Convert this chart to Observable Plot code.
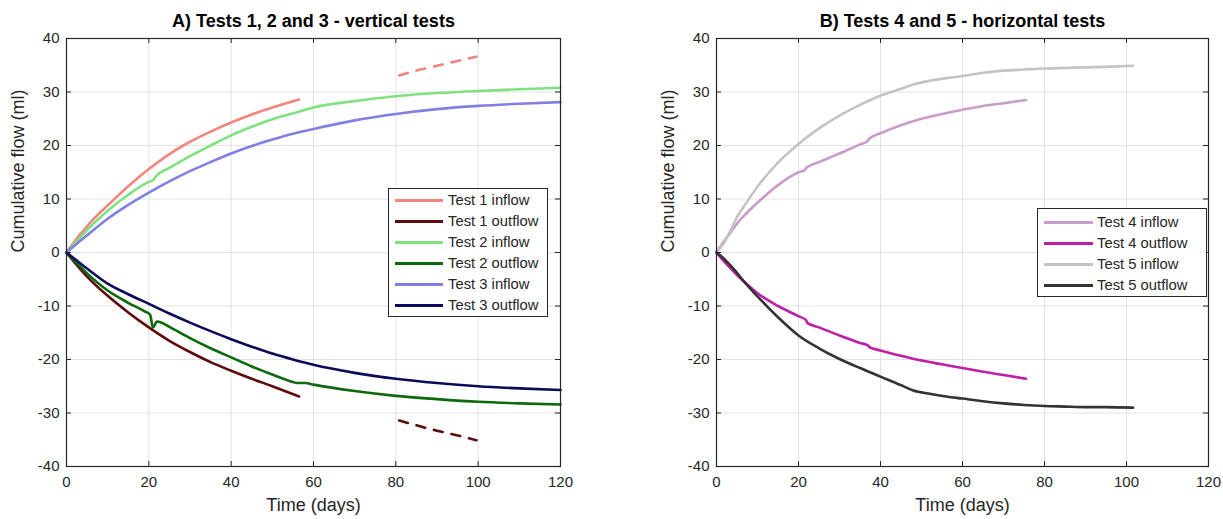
<!DOCTYPE html>
<html>
<head>
<meta charset="utf-8">
<script src="https://cdn.jsdelivr.net/npm/d3@7"></script>
<script src="https://cdn.jsdelivr.net/npm/@observablehq/plot@0.6"></script>
<style>
  html, body { margin: 0; padding: 0; background: #fff; }
  #wrap { position: relative; width: 1223px; height: 519px; overflow: hidden; font-family: "Liberation Sans", Arial, sans-serif; }
  .panel { position: absolute; top: 0; }
  .legend { position: absolute; box-sizing: border-box; border: 1px solid #262626; background: #fff; }
  .legend .row { position: absolute; left: 0; height: 20px; font-size: 14.8px; color: #262626; line-height: 20px; white-space: nowrap; }
  .legend .sw { position: absolute; top: 9px; height: 3px; }
  .legend .lb { position: absolute; top: 0; }
</style>
</head>
<body>
<div id="wrap"></div>
<script>
// ---------- data ----------
const xTicks = [0, 20, 40, 60, 80, 100, 120];
const yTicks = [-40, -30, -20, -10, 0, 10, 20, 30, 40];

const titleA = "A) Tests 1, 2 and 3 - vertical tests";
const titleB = "B) Tests 4 and 5 - horizontal tests";
const xLabel = "Time (days)";
const yLabel = "Cumulative flow (ml)";

// [day, ml]
const test1Inflow = [[0,0],[1,1.1],[2,2.1],[3,3.1],[5,4.9],[7,6.6],[10,8.8],[15,12.4],[20,15.6],[25,18.4],[30,20.7],[35,22.6],[40,24.3],[45,25.8],[50,27.1],[56.5,28.6]];
const test1InflowLate = [[80.8,33.1],[85,34.0],[90,34.9],[95,35.8],[99.6,36.6]];
const test1Outflow = [[0,0],[2,-1.9],[5,-4.5],[10,-8.1],[15,-11.2],[20,-14.0],[25,-16.5],[30,-18.6],[35,-20.5],[40,-22.1],[45,-23.6],[50,-25.0],[56.5,-26.9]];
const test1OutflowLate = [[80.8,-31.4],[85,-32.3],[90,-33.3],[95,-34.2],[99.6,-35.1]];
const test2Inflow = [[0,0],[2,1.7],[5,4.2],[10,7.8],[15,10.8],[20,13.2],[21,13.5],[21.8,14.3],[25,15.8],[30,18.0],[35,20.0],[40,21.9],[45,23.5],[50,24.9],[56,26.2],[60,27.1],[70,28.3],[80,29.2],[90,29.8],[100,30.2],[110,30.5],[120,30.8]];
const test2Outflow = [[0,0],[2,-1.6],[5,-3.9],[10,-7.1],[15,-9.4],[19,-11.0],[20.3,-11.6],[21,-14.0],[22,-12.9],[23,-13.1],[25,-13.9],[30,-16.0],[35,-17.9],[40,-19.6],[45,-21.3],[50,-22.8],[55,-24.2],[56,-24.4],[58,-24.4],[60,-24.7],[70,-25.9],[80,-26.8],[90,-27.4],[100,-27.9],[110,-28.2],[120,-28.4]];
const test3Inflow = [[0,0],[2,1.3],[5,3.2],[10,6.3],[15,8.9],[20,11.2],[25,13.3],[30,15.2],[35,16.9],[40,18.5],[45,19.9],[50,21.1],[55,22.2],[60,23.1],[70,24.7],[80,25.9],[90,26.8],[100,27.4],[110,27.8],[120,28.1]];
const test3Outflow = [[0,0],[2,-1.2],[5,-3.0],[10,-5.8],[15,-7.8],[20,-9.6],[25,-11.4],[30,-13.1],[35,-14.7],[40,-16.2],[45,-17.6],[50,-18.9],[55,-20.0],[60,-21.0],[70,-22.5],[80,-23.6],[90,-24.4],[100,-25.0],[110,-25.4],[120,-25.7]];

const test4Inflow = [[0,0],[1,1.2],[2,2.3],[3,3.3],[5,5.4],[7,7.1],[10,9.3],[15,12.6],[20,15.0],[21.5,15.4],[22,15.9],[25,16.9],[30,18.5],[35,20.2],[36.8,20.8],[37.3,21.3],[40,22.3],[45,23.8],[50,25.0],[55,25.9],[60,26.7],[65,27.4],[70,27.9],[75.5,28.5]];
const test4Outflow = [[0,0],[2,-1.8],[3,-2.6],[5,-4.2],[8,-6.3],[10,-7.6],[15,-10.0],[20,-11.9],[21.8,-12.6],[22.2,-13.2],[25,-14.0],[30,-15.5],[35,-16.9],[37,-17.4],[37.3,-17.7],[40,-18.3],[45,-19.3],[50,-20.2],[55,-20.9],[60,-21.6],[65,-22.3],[70,-22.9],[75.5,-23.6]];
const test5Inflow = [[0,0],[1,0.9],[2,2.0],[3,3.5],[5,6.6],[7,9.0],[10,12.3],[15,16.8],[20,20.3],[25,23.2],[30,25.6],[35,27.6],[40,29.3],[45,30.6],[48,31.4],[52,32.1],[56,32.6],[60,33.0],[65,33.6],[70,34.0],[75,34.2],[80,34.4],[85,34.5],[90,34.6],[95,34.7],[101.6,34.9]];
const test5Outflow = [[0,0],[1,-0.6],[2,-1.3],[3,-2.1],[5,-3.8],[7,-5.7],[10,-8.2],[15,-12.1],[20,-15.5],[25,-17.9],[30,-19.9],[35,-21.6],[40,-23.2],[45,-24.8],[48,-25.8],[52,-26.4],[56,-26.9],[60,-27.3],[65,-27.8],[70,-28.2],[75,-28.5],[80,-28.7],[85,-28.8],[90,-28.9],[95,-28.9],[101.6,-29.0]];

const namesA = ["Test 1 inflow","Test 1 outflow","Test 2 inflow","Test 2 outflow","Test 3 inflow","Test 3 outflow"];
const colorsA = ["#f2867f","#5e0b0b","#80e180","#0c6a0c","#8080e4","#0b0b5a"];
const seriesA = [test1Inflow, test1Outflow, test2Inflow, test2Outflow, test3Inflow, test3Outflow];
const lateA = [test1InflowLate, test1OutflowLate];
const lateColorsA = [colorsA[0], colorsA[1]];

const namesB = ["Test 4 inflow","Test 4 outflow","Test 5 inflow","Test 5 outflow"];
const colorsB = ["#c99dc9","#bf1fa6","#c4c4c4","#333333"];
const seriesB = [test4Inflow, test4Outflow, test5Inflow, test5Outflow];

// ---------- drawing ----------
const FONT = "'Liberation Sans', Arial, sans-serif";
const INK = "#262626";
const H = 519, MT = 38, MB = 53, TICK = 5;

function panel({width, ml, mr, title, series, colors, late = [], lateColors = []}) {
  const innerW = width - ml - mr, innerH = H - MT - MB;
  const marks = [
    Plot.gridX(xTicks, {stroke: "#e2e2e2", strokeOpacity: 1}),
    Plot.gridY(yTicks, {stroke: "#e2e2e2", strokeOpacity: 1}),
  ];
  series.forEach((s, i) => marks.push(
    Plot.line(s, {x: d => d[0], y: d => d[1], stroke: colors[i], strokeWidth: 2.6, curve: "monotone-x"})
  ));
  late.forEach((s, i) => marks.push(
    Plot.line(s, {x: d => d[0], y: d => d[1], stroke: lateColors[i], strokeWidth: 2.6, strokeDasharray: "9,9", curve: "monotone-x"})
  ));
  marks.push(
    Plot.frame({stroke: INK, strokeWidth: 1.2}),
    Plot.ruleX(xTicks, {stroke: INK, insetTop: innerH - TICK}),
    Plot.ruleX(xTicks, {stroke: INK, insetBottom: innerH - TICK}),
    Plot.ruleY(yTicks, {stroke: INK, insetRight: innerW - TICK}),
    Plot.ruleY(yTicks, {stroke: INK, insetLeft: innerW - TICK}),
    Plot.axisX(xTicks, {tickSize: 0, tickPadding: 10, label: null, fontSize: 15, fill: INK, tickFormat: d => String(d)}),
    Plot.axisY(yTicks, {tickSize: 0, tickPadding: 7, label: null, fontSize: 15, fill: INK, tickFormat: d => String(d)}),
    Plot.text([title], {frameAnchor: "top", dy: -24, fontSize: 18, fontWeight: "bold", fill: "#000"}),
    Plot.text([xLabel], {frameAnchor: "bottom", dy: 44, fontSize: 18, fill: INK}),
    Plot.text([yLabel], {frameAnchor: "left", dx: -48, rotate: -90, fontSize: 18, fill: INK})
  );
  return Plot.plot({
    width, height: H,
    marginLeft: ml, marginRight: mr, marginTop: MT, marginBottom: MB,
    x: {domain: [0, 120], axis: null},
    y: {domain: [-40, 40], axis: null},
    style: {fontFamily: FONT, fontSize: "15px", color: INK, background: "#fff", overflow: "visible"},
    marks
  });
}

function legend(names, colors, box) {
  const el = document.createElement("div");
  el.className = "legend";
  Object.assign(el.style, {left: box.left + "px", top: box.top + "px", width: box.w + "px", height: box.h + "px"});
  names.forEach((n, i) => {
    const row = document.createElement("div");
    row.className = "row";
    row.style.top = (box.first + i * box.step - 10) + "px";
    const sw = document.createElement("div");
    sw.className = "sw";
    Object.assign(sw.style, {left: box.swL + "px", width: box.swW + "px", background: colors[i]});
    const lb = document.createElement("div");
    lb.className = "lb";
    lb.style.left = box.txL + "px";
    lb.textContent = n;
    row.appendChild(sw); row.appendChild(lb);
    el.appendChild(row);
  });
  return el;
}

const wrap = document.getElementById("wrap");
const a = panel({width: 612, ml: 66, mr: 52, title: titleA, series: seriesA, colors: colorsA, late: lateA, lateColors: lateColorsA});
a.classList.add("panel"); a.style.left = "0px";
const b = panel({width: 611, ml: 104, mr: 15, title: titleB, series: seriesB, colors: colorsB});
b.classList.add("panel"); b.style.left = "612px";
wrap.appendChild(a); wrap.appendChild(b);

wrap.appendChild(legend(namesA, colorsA, {left: 388, top: 188, w: 160, h: 129, first: 11, step: 20.9, swL: 6, swW: 48, txL: 59}));
wrap.appendChild(legend(namesB, colorsB, {left: 1037, top: 208, w: 170, h: 89, first: 13, step: 20.9, swL: 6, swW: 49, txL: 59}));
</script>
</body>
</html>
